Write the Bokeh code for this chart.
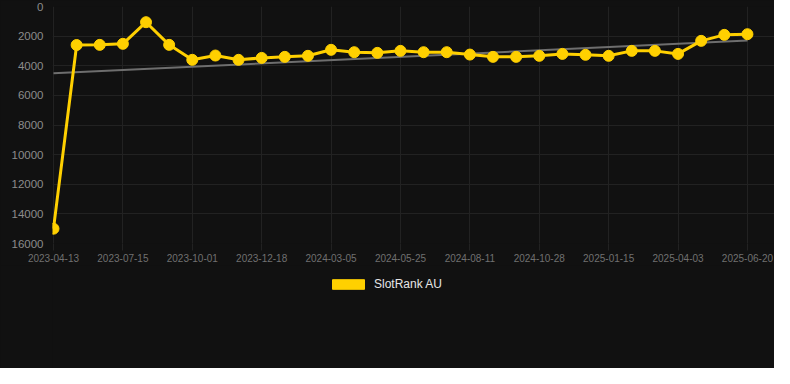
from bokeh.plotting import figure
from bokeh.layouts import column
from bokeh.models import Range1d, FixedTicker, Legend, LegendItem, ColumnDataSource
from bokeh.embed import file_html
from bokeh.resources import INLINE

# ---- data ----
series_name = "SlotRank AU"
ranks = [15000, 2600, 2590, 2520, 1060, 2590, 3600, 3310, 3600, 3470, 3400,
         3330, 2925, 3085, 3130, 2995, 3085, 3085, 3245, 3400, 3400, 3330,
         3200, 3260, 3330, 2995, 2995, 3200, 2320, 1915, 1870]
tick_labels = ["2023-04-13", "2023-07-15", "2023-10-01", "2023-12-18",
               "2024-03-05", "2024-05-25", "2024-08-11", "2024-10-28",
               "2025-01-15", "2025-04-03", "2025-06-20"]
tick_step = 3
trend_values = [4500, 2300]
y_ticks = [0, 2000, 4000, 6000, 8000, 10000, 12000, 14000, 16000]

x = list(range(len(ranks)))
tick_pos = [i * tick_step for i in range(len(tick_labels))]
trend_x = [x[0], x[-1]]

BG = "#111111"
YELLOW = "#FFD000"
FONT = "Liberation Sans"
W = 774

p = figure(width=W, height=265, output_backend="svg", toolbar_location=None,
           x_range=Range1d(-0.043, 31.17), y_range=Range1d(16000, 0),
           background_fill_color=BG, border_fill_color=BG,
           min_border_left=52, min_border_right=0, min_border_top=6,
           min_border_bottom=22, styles={"background-color": BG})
p.outline_line_color = None

# grid
p.xgrid.ticker = FixedTicker(ticks=tick_pos)
p.ygrid.ticker = FixedTicker(ticks=y_ticks)
p.xgrid.grid_line_color = "#222222"
p.ygrid.grid_line_color = "#222222"

# axes
p.xaxis.ticker = FixedTicker(ticks=tick_pos)
p.xaxis.major_label_overrides = {pos: lab for pos, lab in zip(tick_pos, tick_labels)}
p.yaxis.ticker = FixedTicker(ticks=y_ticks)
for ax in (p.xaxis, p.yaxis):
    ax.axis_line_color = None
    ax.minor_tick_line_color = None
    ax.major_label_text_font = FONT
p.xaxis.major_tick_line_color = "#222222"
p.xaxis.major_tick_in = 0
p.xaxis.major_tick_out = 7
p.xaxis.major_label_standoff = 3
p.xaxis.major_label_text_font_size = "10px"
p.xaxis.major_label_text_color = "#707070"
p.yaxis.major_tick_line_color = None
p.yaxis.major_tick_in = 0
p.yaxis.major_tick_out = 0
p.yaxis.major_label_standoff = 9
p.yaxis.major_label_text_font_size = "11.5px"
p.yaxis.major_label_text_color = "#8c8c8c"

# trend
p.line(trend_x, trend_values, line_color="#6e6e6e", line_width=2)

src = ColumnDataSource(dict(x=x, y=ranks))
p.line("x", "y", source=src, line_color=YELLOW, line_width=3)
p.scatter("x", "y", source=src, size=11, fill_color=YELLOW, line_color=YELLOW)

# legend strip below the chart
lg = figure(width=W, height=103, output_backend="svg", toolbar_location=None,
            x_range=Range1d(0, 1), y_range=Range1d(0, 1),
            x_axis_location=None, y_axis_location=None,
            background_fill_color=BG, border_fill_color=BG,
            min_border=0, styles={"background-color": BG})
lg.outline_line_color = None
lg.grid.visible = False
swatch = lg.rect(x=[float("nan")], y=[float("nan")], width=1, height=1,
                 fill_color=YELLOW, line_color=YELLOW)
legend = Legend(items=[LegendItem(label=series_name, renderers=[swatch])],
                orientation="horizontal", location=(276, 77),
                background_fill_alpha=0, border_line_color=None,
                glyph_width=40, glyph_height=12, label_standoff=6,
                label_text_font=FONT, label_text_font_size="12px",
                label_text_color="#e6e6e6", padding=5, margin=0, spacing=0)
lg.add_layout(legend, "center")

layout = column(p, lg, spacing=0, styles={"background-color": BG})
open("out.html", "w").write(file_html(layout, INLINE))
